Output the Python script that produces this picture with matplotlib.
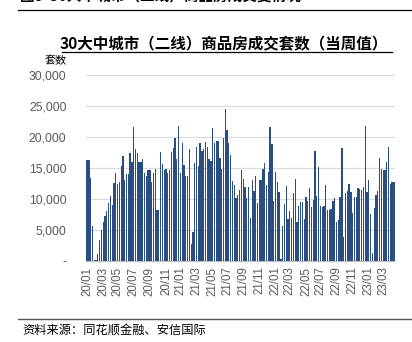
import matplotlib
matplotlib.use("Agg")
import matplotlib.pyplot as plt
import matplotlib.lines as mlines
import pandas as pd
import numpy as np

plt.rcParams['font.family'] = ['Noto Sans CJK SC', 'DejaVu Sans']

# Weekly transactions (units), Jan 2020 - Apr 2023
values = [
    16300, 16300, 13400, 5600, 200, 100, 1200, 3400, 5000, 6300, 7300, 8100, 9300, 10500, 9000,
    12600, 14200, 12400, 12800, 15300, 16900, 13000, 14000, 14000, 17500, 15900, 21600, 18000,
    17500, 16000, 16000, 16500, 14200,
    13700, 14700, 14700, 12800, 14200, 14800, 8200, 8200, 17600, 15600, 14700, 14900, 14200,
    14700, 17600, 18200, 19800, 16400, 21700, 14200, 19100, 15500, 13700, 13700, 18000, 2700,
    4600, 15800, 18400, 15300, 19000,
    17800, 18000, 19200, 18400, 16400, 16100, 21400, 19100, 19400, 19400, 16600, 14900, 19900,
    24500, 21200, 19100, 17100, 12900, 12300, 10100, 10600, 11500, 14700, 13300, 12000, 10100,
    12000, 7000, 13100, 11300, 13700,
    9300, 13100, 13100, 14800, 15800, 12300, 14400, 21600, 18900, 9700, 14400, 12800, 11200,
    300, 5600, 9200, 12100, 6800, 8100, 7000, 11000, 13300, 6300, 8900, 9500, 9500, 6800, 10300,
    9600, 11800, 8700,
    9900, 17700, 10500, 15100, 8900, 8700, 8900, 12300, 8200, 8200, 8400, 9700, 10100, 6300,
    6600, 10400, 18200, 3800, 10900, 11300, 12400, 11200, 7700, 10300, 10300, 11800, 11600,
    11500, 11900, 21800, 11200,
    13100, 7600, 1300, 8500, 10600, 11300, 16600, 14900, 14600, 14700, 16000, 18400, 12400,
    12800, 12700,
]
start_week = '2020-01-03'
yticks = [0, 5000, 10000, 15000, 20000, 25000, 30000]
ytick_labels = ['-', '5,000', '10,000', '15,000', '20,000', '25,000', '30,000']

title = '30大中城市（二线）商品房成交套数（当周值）'
header = '图5  30大中城市（二线）商品房成交变情况'
ylabel = '套数'
source = '资料来源：同花顺金融、安信国际'

dates = pd.date_range(start_week, periods=len(values), freq='W-FRI')
x = np.arange(len(values))
tick_pos, tick_lab = [], []
prev_month = None
for i, d in enumerate(dates):
    if d.month != prev_month:
        if d.month % 2 == 1:
            tick_pos.append(i)
            tick_lab.append(d.strftime('%y/%m'))
        prev_month = d.month

fig = plt.figure(figsize=(4.12, 3.42), dpi=100)
ax = fig.add_axes([86/412, 1-261/342, (395-86)/412, (261-75)/342])

ax.bar(x, values, width=0.72, color='#2b4e82', edgecolor='none', zorder=3)
ax.set_xlim(-0.6, len(values) - 0.4)
ax.set_ylim(0, 30000)
ax.set_yticks(yticks)
ax.set_yticklabels(ytick_labels, fontfamily='Liberation Sans', fontsize=8.8, color='#595959')
ax.set_xticks(tick_pos)
ax.set_xticklabels(tick_lab, rotation=90, fontfamily='Liberation Sans', fontsize=8.3, color='#595959')
ax.tick_params(axis='x', length=0, pad=4)
ax.tick_params(axis='y', length=0, pad=14)
ax.grid(axis='y', color='#d9d9d9', linewidth=0.9, zorder=0)
for s in ['left', 'right', 'top']:
    ax.spines[s].set_visible(False)
ax.spines['bottom'].set_color('#bfbfbf')
ax.spines['bottom'].set_linewidth(0.9)

fig.text(224/412, 1-44/342, title, ha='center', va='center', fontsize=11.2, fontweight='bold', color='#000000')
fig.add_artist(mlines.Line2D([62/412, 392/412], [1-52/342, 1-52/342], color='#000000', linewidth=0.9))
fig.text(56/412, 1-61/342, ylabel, ha='center', va='center', fontsize=8, color='#000000')

fig.text(20/412, 1-5/342, header, ha='left', va='bottom', fontsize=10.5, fontweight='bold', color='#000000')
fig.add_artist(mlines.Line2D([18/412, 1.0], [1-10/342, 1-10/342], color='#000000', linewidth=0.9))

fig.add_artist(mlines.Line2D([18/412, 1.0], [1-319/342, 1-319/342], color='#555555', linewidth=1.0))
fig.text(22/412, 1-331/342, source, ha='left', va='center', fontsize=8.8, color='#000000', style='italic')

fig.savefig('out.png', dpi=100)
